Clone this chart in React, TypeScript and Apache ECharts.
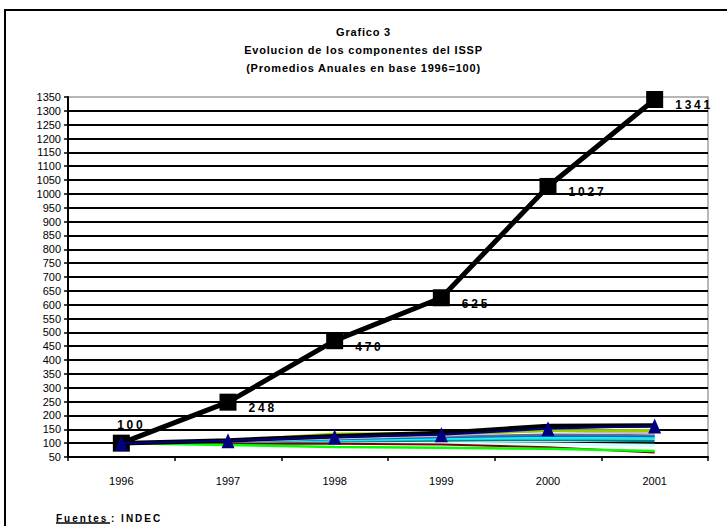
import React, { useEffect, useRef } from "react";
import * as echarts from "echarts";

// Years on the category axis
const years = ["1996", "1997", "1998", "1999", "2000", "2001"];

// Value axis range (base 1996 = 100)
const yMin = 50;
const yMax = 1350;
const yStep = 50;

// Headline index, labelled at every point
const indiceTotal = [100, 248, 470, 625, 1027, 1341];

// Components drawn with triangle markers
const componenteTriangulo = [100, 109, 122, 130, 152, 162];

// Remaining components (thin lines clustered near the base)
const componenteNegro = [100, 110, 125, 137, 162, 164];
const componenteOliva = [100, 108, 133, 135, 145, 146];
const componenteGris = [100, 106, 118, 128, 146, 135];
const componentePizarra = [100, 107, 117, 124, 131, 129];
const componenteAzul = [100, 105, 114, 121, 127, 125];
const componenteCeleste = [100, 104, 112, 118, 122, 121];
const componenteTurquesa = [100, 103, 110, 115, 118, 117];
const componenteVerdeAzul = [100, 102, 107, 110, 112, 108];
const componenteCianClaro = [100, 100, 101, 100, 97, 92];
const componenteBordo = [100, 98, 98, 95, 85, 66];
const componenteVerde = [100, 93, 86, 83, 80, 72];

const thinLines: { name: string; data: number[]; color: string; width: number }[] = [
  { name: "Componente A", data: componenteCianClaro, color: "#CCFFFF", width: 3 },
  { name: "Componente B", data: componenteVerdeAzul, color: "#008080", width: 2.5 },
  { name: "Componente C", data: componenteTurquesa, color: "#33CCCC", width: 2.5 },
  { name: "Componente D", data: componenteCeleste, color: "#00FFFF", width: 2.5 },
  { name: "Componente E", data: componenteAzul, color: "#0066CC", width: 2 },
  { name: "Componente F", data: componentePizarra, color: "#666699", width: 2 },
  { name: "Componente G", data: componenteGris, color: "#C0C0C0", width: 2.5 },
  { name: "Componente H", data: componenteOliva, color: "#99CC00", width: 3 },
  { name: "Componente I", data: componenteBordo, color: "#800000", width: 2 },
  { name: "Componente J", data: componenteVerde, color: "#00FF00", width: 2.5 },
  { name: "Componente K", data: componenteNegro, color: "#000000", width: 4.5 },
];

const css = `
body { margin: 0; }
.grafico text[style*="bold"][style*="12px"] { letter-spacing: 2.8px; }
.grafico text[style*="bold"][style*="11px"] { letter-spacing: 0.8px; }
.grafico text[style*="bold"][style*="10px"] { letter-spacing: 2px; }
`;

export default function App() {
  const ref = useRef<HTMLDivElement>(null);

  useEffect(() => {
    if (!ref.current) return;
    const chart = echarts.init(ref.current, null, { renderer: "svg" });

    const thinSeries = thinLines.map((s) => ({
      name: s.name,
      type: "line",
      data: s.data,
      symbol: "none",
      lineStyle: { color: s.color, width: s.width },
      itemStyle: { color: s.color },
      z: 2,
    }));

    const totalData = indiceTotal.map((v, i) => ({
      value: v,
      label:
        i === 0
          ? { position: "top", offset: [10, 1] }
          : { position: "right", offset: [7, 6] },
    }));

    chart.setOption({
      animation: false,
      backgroundColor: "#ffffff",
      title: {
        text:
          "Grafico 3\nEvolucion de los componentes del ISSP\n(Promedios Anuales en base 1996=100)",
        left: "center",
        top: 18,
        textStyle: {
          fontFamily: "Arial",
          fontSize: 11,
          fontWeight: "bold",
          color: "#000",
          lineHeight: 18,
        },
      },
      grid: {
        left: 68,
        right: 19,
        top: 97,
        bottom: 69,
        show: true,
        borderColor: "#A0A0A0",
        borderWidth: 1.5,
        backgroundColor: "transparent",
      },
      xAxis: {
        type: "category",
        data: years,
        boundaryGap: true,
        axisLine: { lineStyle: { color: "#000", width: 2 } },
        axisTick: { show: true, interval: 0, length: 4, lineStyle: { color: "#000", width: 1.5 } },
        axisLabel: { color: "#000", fontFamily: "Arial", fontSize: 11, margin: 18 },
        splitLine: { show: false },
      },
      yAxis: {
        type: "value",
        min: yMin,
        max: yMax,
        interval: yStep,
        axisLine: { show: true, lineStyle: { color: "#000", width: 2 } },
        axisTick: { show: true, length: 4, lineStyle: { color: "#000", width: 1.5 } },
        axisLabel: {
          color: "#000",
          fontFamily: "Arial",
          fontSize: 11,
          margin: 7,
          formatter: (v: number) => String(v),
        },
        splitLine: {
          show: true,
          showMinLine: false,
          showMaxLine: false,
          lineStyle: { color: "#000", width: 2 },
        },
      },
      graphic: [
        {
          type: "rect",
          shape: { x: 5, y: 10, width: 900, height: 700 },
          style: { fill: "none", stroke: "#000", lineWidth: 2 },
          silent: true,
        },
        {
          type: "text",
          x: 56,
          y: 518,
          style: {
            text: "Fuentes",
            fontFamily: "Arial",
            fontSize: 10,
            fontWeight: "bold",
            fill: "#000",
            verticalAlign: "middle",
          },
        },
        {
          type: "line",
          shape: { x1: 56, y1: 523, x2: 110, y2: 523 },
          style: { stroke: "#000", lineWidth: 1.5 },
        },
        {
          type: "text",
          x: 111,
          y: 518,
          style: {
            text: ": INDEC",
            fontFamily: "Arial",
            fontSize: 10,
            fontWeight: "bold",
            fill: "#000",
            verticalAlign: "middle",
          },
        },
      ],
      series: [
        ...thinSeries,
        {
          name: "Indice total",
          type: "line",
          data: totalData,
          symbol: "rect",
          symbolSize: 17,
          lineStyle: { color: "#000", width: 5 },
          itemStyle: { color: "#000" },
          label: {
            show: true,
            color: "#000",
            fontFamily: "Arial",
            fontSize: 12,
            fontWeight: "bold",
          },
          z: 3,
        },
        {
          name: "Componente con triangulos",
          type: "line",
          data: componenteTriangulo,
          symbol: "triangle",
          symbolSize: [13, 15],
          lineStyle: { color: "#000080", width: 2 },
          itemStyle: { color: "#000080" },
          z: 4,
        },
      ],
    });

    return () => chart.dispose();
  }, []);

  return (
    <>
      <style>{css}</style>
      <div className="grafico" ref={ref} style={{ width: 727, height: 526 }} />
    </>
  );
}
